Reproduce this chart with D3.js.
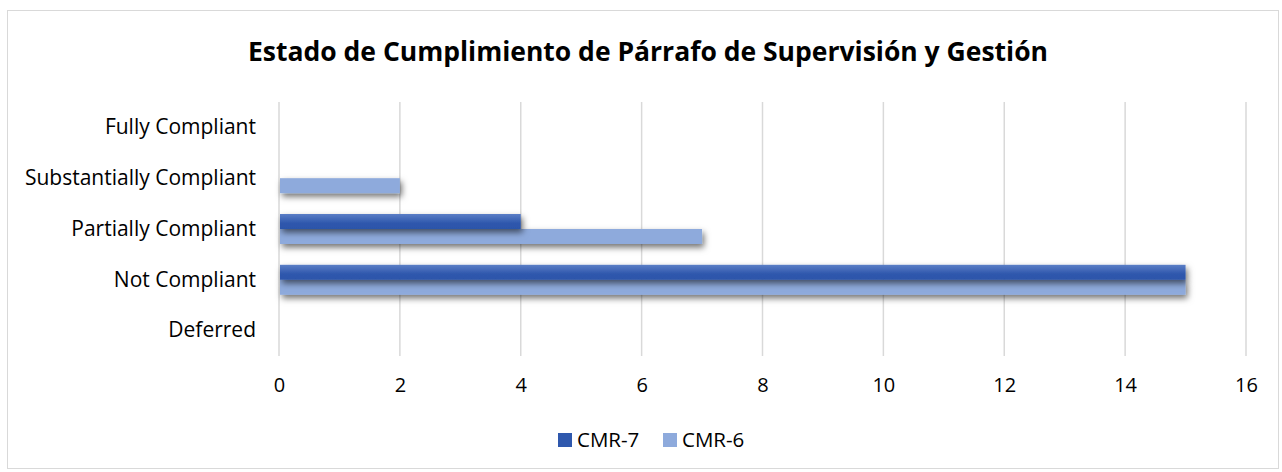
<!DOCTYPE html>
<html lang="es">
  <head>
    <meta charset="utf-8" />
    <script src="https://d3js.org/d3.v7.min.js"></script>
    <style>
      body { margin: 0; background: #fff; }
      text { font-family: "Open Sans", sans-serif; fill: #000; }
    </style>
  </head>
  <body>
    <div id="chart"></div>
    <script>
      // data
      const categories = ["Fully Compliant", "Substantially Compliant", "Partially Compliant", "Not Compliant", "Deferred"];
      const seriesNames = ["CMR-7", "CMR-6"];
      const cmr7 = [0, 0, 4, 15, 0];
      const cmr6 = [0, 2, 7, 15, 0];
      const xTicks = [0, 2, 4, 6, 8, 10, 12, 14, 16];

      const width = 1282, height = 472;
      const plot = { left: 279, right: 1246, top: 102, bottom: 356 };

      const svg = d3.select("#chart").append("svg")
        .attr("width", width).attr("height", height);

      const defs = svg.append("defs");
      const grad = defs.append("linearGradient").attr("id", "g7")
        .attr("x1", 0).attr("y1", 0).attr("x2", 0).attr("y2", 1);
      grad.append("stop").attr("offset", "0%").attr("stop-color", "#5b7ec6");
      grad.append("stop").attr("offset", "60%").attr("stop-color", "#2f58ad");
      grad.append("stop").attr("offset", "100%").attr("stop-color", "#2c55aa");
      const shadow = defs.append("filter").attr("id", "shadow")
        .attr("x", "-5%").attr("y", "-50%").attr("width", "110%").attr("height", "220%");
      shadow.append("feDropShadow").attr("dx", 2).attr("dy", 3.5)
        .attr("stdDeviation", 3).attr("flood-color", "#000").attr("flood-opacity", 0.55);

      // chart border
      svg.append("rect").attr("x", 7.5).attr("y", 10.5)
        .attr("width", 1271).attr("height", 458)
        .attr("fill", "#fff").attr("stroke", "#d9d9d9");

      svg.append("text").attr("x", 648).attr("y", 61)
        .attr("text-anchor", "middle")
        .style("font-size", "26.5px").style("font-weight", "bold")
        .text("Estado de Cumplimiento de Párrafo de Supervisión y Gestión");

      const x = d3.scaleLinear().domain([0, 16]).range([plot.left, plot.right]);
      const y = d3.scaleBand().domain(categories).range([plot.top, plot.bottom]);
      const inner = d3.scaleBand().domain(seriesNames)
        .range([y.bandwidth() / 2 - 15, y.bandwidth() / 2 + 15]);

      // gridlines
      svg.append("g").selectAll("line").data(xTicks).join("line")
        .attr("x1", d => x(d)).attr("x2", d => x(d))
        .attr("y1", plot.top).attr("y2", plot.bottom)
        .attr("stroke", "#d9d9d9").attr("stroke-width", 1.5);

      // x tick labels
      const xAxis = svg.append("g").attr("transform", `translate(0,${plot.bottom})`)
        .call(d3.axisBottom(x).tickValues(xTicks).tickSize(0).tickPadding(22));
      xAxis.select(".domain").remove();
      xAxis.selectAll("text").style("font-size", "20px").attr("fill", "#000")
        .style("font-family", "'Open Sans', sans-serif");

      // category labels
      const yAxis = svg.append("g").attr("transform", `translate(${plot.left},0)`)
        .call(d3.axisLeft(y).tickSize(0).tickPadding(23));
      yAxis.select(".domain").remove();
      yAxis.selectAll("text").style("font-size", "21px").attr("fill", "#000")
        .style("font-family", "'Open Sans', sans-serif");

      const rows = categories.map((c, i) => ({ c, values: [cmr7[i], cmr6[i]] }));
      const fills = ["url(#g7)", "#8eaadc"];

      // CMR-6 first, then CMR-7 on top
      [1, 0].forEach(s => {
        svg.append("g").attr("filter", "url(#shadow)")
          .selectAll("rect")
          .data(rows.filter(r => r.values[s] > 0))
          .join("rect")
          .attr("x", x(0) + 1)
          .attr("y", r => y(r.c) + inner(seriesNames[s]))
          .attr("width", r => x(r.values[s]) - x(0) - 1)
          .attr("height", inner.bandwidth())
          .attr("fill", fills[s]);
      });

      // legend
      const legend = svg.append("g").attr("transform", "translate(558,440)");
      const legX = [0, 105];
      seriesNames.forEach((n, i) => {
        const g = legend.append("g").attr("transform", `translate(${legX[i]},0)`);
        g.append("rect").attr("x", 0).attr("y", -7).attr("width", 14).attr("height", 14)
          .attr("fill", i === 0 ? "#2f58ad" : "#8eaadc");
        g.append("text").attr("x", 19).attr("y", 0).attr("dy", "0.35em")
          .style("font-size", "20.5px").text(n);
      });
    </script>
  </body>
</html>
